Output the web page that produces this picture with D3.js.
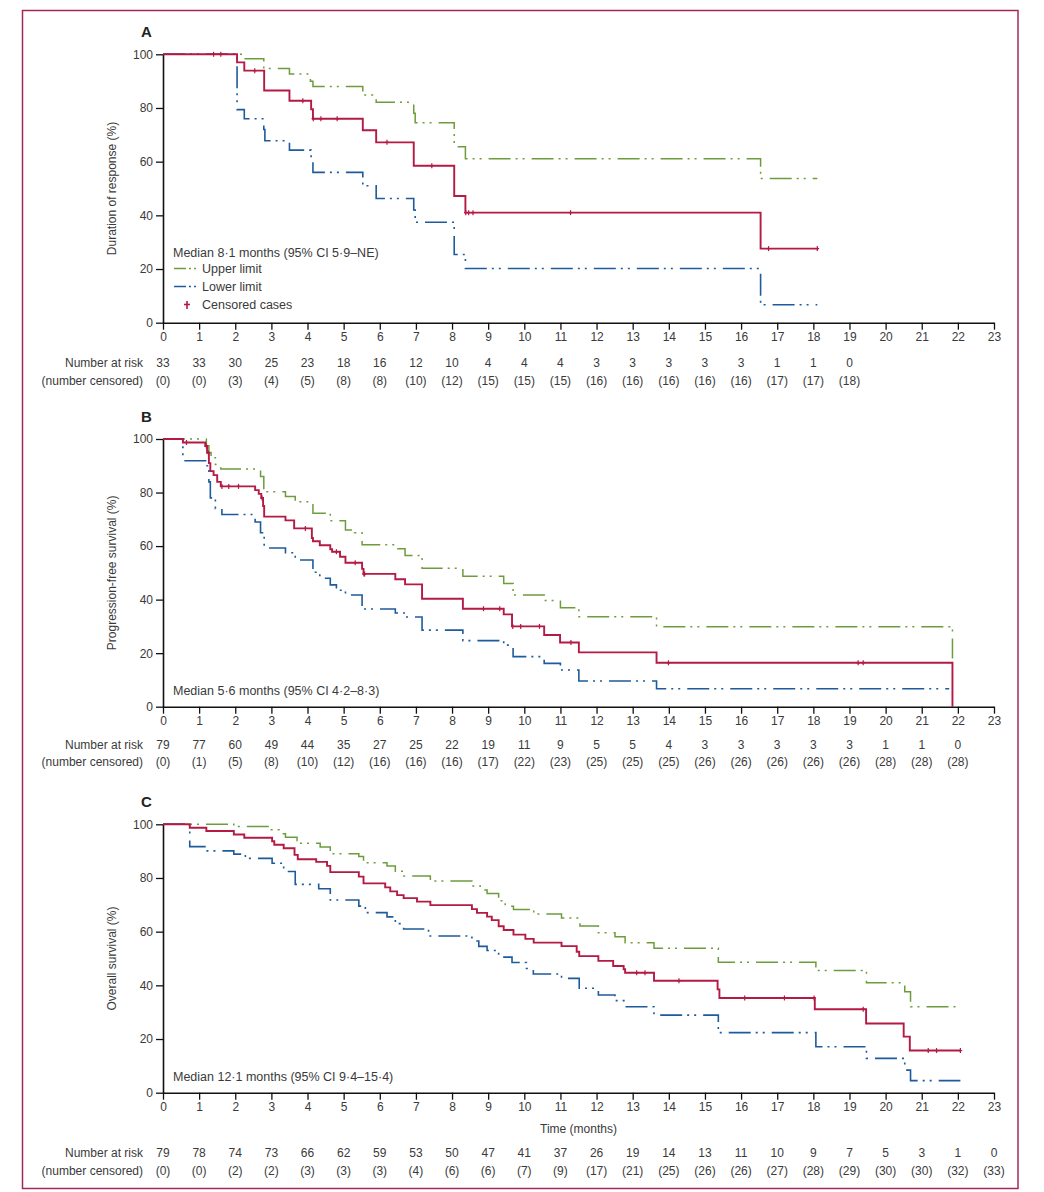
<!DOCTYPE html>
<html>
<head>
<meta charset="utf-8">
<script src="https://cdn.jsdelivr.net/npm/d3@7"></script>
<style>
  html, body { margin: 0; padding: 0; background: #fff; }
  svg { display: block; font-family: "Liberation Sans", Arial, sans-serif; }
</style>
</head>
<body>
<div id="chart"></div>
<script>
// x ticks shared by all three panels
const monthTicks = d3.range(0, 24);
const pctTicks = [0, 20, 40, 60, 80, 100];

// ---- panel A: duration of response ----
// each pair is [time of step (months), value after step (%)]
const aEstimate = [[0,100],[2.05,97],[2.25,93.9],[2.8,86.5],[3.5,82.7],[4.1,79.5],[4.15,76],[5.53,71.7],[5.9,67.2],[6.94,58.5],[8.06,47.2],[8.37,41],[16.54,27.6],[18.11,27.6]];
const aUpper = [[0,100],[2.25,98.3],[2.79,94.7],[3.5,92.7],[4.08,90],[4.15,88],[5.53,84.8],[5.9,82.1],[6.94,78],[6.98,74.5],[8.06,65.6],[8.37,61.1],[16.54,53.7],[18.11,53.7]];
const aLower = [[0,100],[2.05,79.4],[2.25,76],[2.79,72],[2.82,67.8],[3.5,64.3],[4.1,60],[4.15,56],[5.53,51],[5.9,46.3],[6.94,42],[6.98,37.4],[8.06,25.4],[8.37,20.2],[16.54,6.7],[18.11,6.7]];
const aCensored = [1.4, 1.6, 2.54, 3.87, 4.16, 4.37, 4.82, 6.2, 7.44, 8.38, 8.46, 8.58, 11.28, 16.76, 18.11];
const aAtRisk = [33,33,30,25,23,18,16,12,10,4,4,4,3,3,3,3,3,1,1,0];
const aNumCensored = [0,0,3,4,5,8,8,10,12,15,15,15,16,16,16,16,16,17,17,18];

// ---- panel B: progression-free survival ----
const bEstimate = [[0,100],[0.55,98.7],[1.17,97.4],[1.22,94.8],[1.27,91],[1.31,88],[1.4,86.5],[1.5,84],[1.6,82.3],[2.55,80.9],[2.65,79.5],[2.72,78],[2.77,75],[2.8,71],[3.39,69.6],[3.63,66.6],[4.12,63],[4.15,61.8],[4.34,60.3],[4.63,58.8],[4.68,57.9],[4.9,56],[5.05,53.8],[5.51,51.5],[5.55,49.6],[6.43,47.6],[6.7,45.7],[7.17,40.3],[8.3,36.6],[9.43,34.5],[9.66,30],[10.55,26.8],[10.99,24],[11.51,20.3],[13.66,16.4],[21.85,0]];
const bUpper = [[0,100],[1.2,97.5],[1.27,95],[1.33,93],[1.45,90.5],[1.6,88.8],[2.7,86],[2.79,80.3],[3.39,78.5],[3.66,76.6],[4.15,72.3],[4.63,69.5],[5.05,66],[5.3,65],[5.51,60.5],[6.43,59],[6.7,56.5],[7.17,51.7],[8.3,48.7],[9.43,46],[9.69,41.7],[10.55,39.7],[11.0,37],[11.51,33.6],[13.66,29.9],[21.85,18]];
const bLower = [[0,100],[0.55,91.9],[1.22,90],[1.27,84],[1.31,78],[1.45,74],[1.63,71.8],[2.55,69],[2.7,65],[2.8,59.3],[3.39,57.5],[3.66,54.8],[4.15,50.2],[4.34,48],[4.63,45.5],[4.8,43.5],[5.05,41.7],[5.51,36.5],[6.43,35],[6.7,33.5],[7.17,28.6],[8.3,24.7],[9.43,23],[9.69,18.7],[10.55,16.2],[11.0,13.7],[11.51,9.6],[13.66,6.7],[21.76,6.7]];
const bCensored = [0.65, 1.2, 1.26, 1.63, 1.82, 2.09, 2.74, 3.94, 4.8, 5.32, 5.56, 5.58, 8.87, 9.32, 9.68, 9.9, 10.42, 11.29, 13.99, 19.24, 19.38];
const bAtRisk = [79,77,60,49,44,35,27,25,22,19,11,9,5,5,4,3,3,3,3,3,1,1,0];
const bNumCensored = [0,1,5,8,10,12,16,16,16,17,22,23,25,25,25,26,26,26,26,26,28,28,28];

// ---- panel C: overall survival ----
const cEstimate = [[0,100],[0.74,98.7],[1.2,97.5],[1.96,96.2],[2.25,95],[3.02,93.7],[3.08,92.4],[3.34,91.1],[3.64,88.6],[3.73,87],[4.24,86],[4.54,84.5],[4.63,82.2],[5.42,80.5],[5.55,78],[6.15,76.5],[6.29,75],[6.48,73.6],[6.66,72.5],[7.03,71.2],[7.4,69.9],[8.55,68.4],[8.69,67],[8.97,65.6],[9.1,64.3],[9.29,62],[9.43,60.6],[9.7,58.9],[10.03,57.3],[10.26,55.9],[11.03,54.6],[11.45,52.5],[11.52,50.9],[12.05,49.1],[12.46,47.2],[12.75,46],[12.79,44.7],[13.59,41.7],[15.35,38.5],[15.4,35.3],[18.04,31.1],[19.46,25.8],[20.5,20.9],[20.67,15.7],[22.07,15.7]];
const cUpper = [[0,100],[1.96,99.2],[2.97,98],[3.25,96.5],[3.39,95.2],[3.71,92.9],[4.35,91.5],[4.63,89],[5.42,88],[5.55,85.7],[6.2,84.5],[6.43,82.5],[6.66,80.7],[7.4,78.9],[8.55,77],[8.78,75.5],[8.97,74.2],[9.29,71.5],[9.47,69.5],[9.7,68.3],[10.26,66.6],[11.03,65.1],[11.54,62.1],[12.05,59.6],[12.51,58.1],[12.79,55.9],[13.59,53.8],[15.37,48.6],[18.07,45.5],[19.47,41],[20.53,37.6],[20.69,32],[22.07,32]];
const cLower = [[0,100],[0.74,91.7],[1.22,90.1],[1.96,88.9],[2.28,87.3],[3.02,85.5],[3.34,82.4],[3.66,77.6],[4.31,76],[4.63,71.8],[5.42,69.5],[5.6,67.1],[6.2,65.5],[6.43,63],[6.66,61],[7.35,58.4],[8.55,56.5],[8.74,54.5],[8.97,53],[9.29,50.5],[9.66,48.5],[10.06,46.3],[10.25,44.2],[11.03,42.6],[11.52,38.9],[12.05,36.4],[12.51,34.3],[12.79,32],[13.59,28.9],[15.37,22.4],[18.07,17.1],[19.47,12.8],[20.53,8.4],[20.69,4.5],[22.07,4.5]];
const cCensored = [13.11, 13.34, 14.28, 16.1, 17.2, 18.02, 19.38, 21.18, 21.41, 22.07];
const cAtRisk = [79,78,74,73,66,62,59,53,50,47,41,37,26,19,14,13,11,10,9,7,5,3,1,0];
const cNumCensored = [0,0,2,2,3,3,3,4,6,6,7,9,17,21,25,26,26,27,28,29,30,30,32,33];

const RED = '#b31a44', GREEN = '#6e9c3c', BLUE = '#1d5b9c', INK = '#3a3a3a';
const DASH = '22 5 2 5 2 7';

const svg = d3.select('#chart').append('svg')
  .attr('width', 1044)
  .attr('height', 1192);

// thin frame round the whole figure
svg.append('rect')
  .attr('x', 22.5).attr('y', 10.5)
  .attr('width', 995.5).attr('height', 1178)
  .attr('fill', 'none')
  .attr('stroke', '#a3285a')
  .attr('stroke-width', 1.5);

const x = d3.scaleLinear().domain([0, 23]).range([163, 994]);

// value of a step curve at time t
function stepValue(steps, t) {
  let v = steps[0][1];
  steps.forEach((s) => { if (s[0] <= t) v = s[1]; });
  return v;
}

function drawPanel(opt) {
  const y = d3.scaleLinear().domain([0, 100]).range([opt.bottom, opt.top]);
  const g = svg.append('g');

  g.append('text')
    .attr('x', 141).attr('y', opt.top - 17)
    .attr('font-size', 15).attr('font-weight', 'bold').attr('fill', '#222')
    .text(opt.letter);

  // axes
  const xAxis = g.append('g')
    .attr('transform', 'translate(0,' + opt.bottom + ')')
    .call(d3.axisBottom(x).tickValues(monthTicks).tickSize(7).tickSizeOuter(0).tickPadding(3));
  const yAxis = g.append('g')
    .attr('transform', 'translate(163,0)')
    .call(d3.axisLeft(y).tickValues(pctTicks).tickSize(7).tickSizeOuter(0).tickPadding(3));
  [xAxis, yAxis].forEach((a) => {
    a.select('.domain').attr('stroke', '#111').attr('stroke-width', 1.6);
    a.selectAll('.tick line').attr('stroke', '#111').attr('stroke-width', 1.3);
    a.selectAll('text').attr('font-size', 12).attr('fill', INK).attr('font-family', null);
  });

  g.append('text')
    .attr('transform', 'translate(116,' + (opt.top + opt.bottom) / 2 + ') rotate(-90)')
    .attr('text-anchor', 'middle')
    .attr('font-size', 12).attr('fill', INK)
    .text(opt.yTitle);

  const line = d3.line()
    .x((d) => x(d[0]))
    .y((d) => y(d[1]))
    .curve(d3.curveStepAfter);

  g.append('path').datum(opt.upper)
    .attr('d', line).attr('fill', 'none')
    .attr('stroke', GREEN).attr('stroke-width', 1.5).attr('stroke-dasharray', DASH);
  g.append('path').datum(opt.lower)
    .attr('d', line).attr('fill', 'none')
    .attr('stroke', BLUE).attr('stroke-width', 1.6).attr('stroke-dasharray', DASH);
  g.append('path').datum(opt.estimate)
    .attr('d', line).attr('fill', 'none')
    .attr('stroke', RED).attr('stroke-width', 1.9);

  // censor marks on the estimate
  const marks = g.append('g').attr('stroke', RED).attr('stroke-width', 1.2);
  opt.censored.forEach((t) => {
    const cx = x(t), cy = y(stepValue(opt.estimate, t));
    marks.append('line').attr('x1', cx).attr('x2', cx).attr('y1', cy - 2.5).attr('y2', cy + 2.5);
    marks.append('line').attr('x1', cx - 1.8).attr('x2', cx + 1.8).attr('y1', cy).attr('y2', cy);
  });

  g.append('text')
    .attr('x', 173).attr('y', opt.medianY)
    .attr('font-size', 12.5).attr('fill', INK)
    .text(opt.median);

  // number at risk table
  const rows = [
    { label: 'Number at risk', y: opt.riskY, vals: opt.atRisk.map(String) },
    { label: '(number censored)', y: opt.riskY + opt.rowGap, vals: opt.numCensored.map((v) => '(' + v + ')') }
  ];
  rows.forEach((r) => {
    g.append('text')
      .attr('x', 143).attr('y', r.y)
      .attr('text-anchor', 'end').attr('font-size', 12).attr('fill', INK)
      .text(r.label);
    g.selectAll(null).data(r.vals).enter().append('text')
      .attr('x', (d, i) => x(i)).attr('y', r.y)
      .attr('text-anchor', 'middle').attr('font-size', 12).attr('fill', INK)
      .text((d) => d);
  });
  return g;
}

const gA = drawPanel({
  letter: 'A', top: 54.3, bottom: 322.7, yTitle: 'Duration of response (%)',
  estimate: aEstimate, upper: aUpper, lower: aLower, censored: aCensored,
  median: 'Median 8·1 months (95% CI 5·9–NE)', medianY: 256.5,
  atRisk: aAtRisk, numCensored: aNumCensored, riskY: 367, rowGap: 18
});

// legend for panel A
const legend = gA.append('g');
legend.append('line').attr('x1', 174).attr('x2', 197).attr('y1', 268.5).attr('y2', 268.5)
  .attr('stroke', GREEN).attr('stroke-width', 1.5).attr('stroke-dasharray', '12 3 2 3 2 3');
legend.append('line').attr('x1', 174).attr('x2', 197).attr('y1', 286.5).attr('y2', 286.5)
  .attr('stroke', BLUE).attr('stroke-width', 1.6).attr('stroke-dasharray', '12 3 2 3 2 3');
legend.append('line').attr('x1', 187).attr('x2', 187).attr('y1', 301).attr('y2', 309)
  .attr('stroke', RED).attr('stroke-width', 1.6);
legend.append('line').attr('x1', 184).attr('x2', 190).attr('y1', 304.5).attr('y2', 304.5)
  .attr('stroke', RED).attr('stroke-width', 1.6);
[['Upper limit', 273], ['Lower limit', 291], ['Censored cases', 309]].forEach((d) => {
  legend.append('text').attr('x', 202).attr('y', d[1])
    .attr('font-size', 12.5).attr('fill', INK).text(d[0]);
});

drawPanel({
  letter: 'B', top: 439, bottom: 706.7, yTitle: 'Progression-free survival (%)',
  estimate: bEstimate, upper: bUpper, lower: bLower, censored: bCensored,
  median: 'Median 5·6 months (95% CI 4·2–8·3)', medianY: 694.5,
  atRisk: bAtRisk, numCensored: bNumCensored, riskY: 749, rowGap: 16.5
});

drawPanel({
  letter: 'C', top: 824.3, bottom: 1092.7, yTitle: 'Overall survival (%)',
  estimate: cEstimate, upper: cUpper, lower: cLower, censored: cCensored,
  median: 'Median 12·1 months (95% CI 9·4–15·4)', medianY: 1080.5,
  atRisk: cAtRisk, numCensored: cNumCensored, riskY: 1157, rowGap: 18
});

svg.append('text')
  .attr('x', x(11.5)).attr('y', 1133)
  .attr('text-anchor', 'middle').attr('font-size', 12).attr('fill', INK)
  .text('Time (months)');
</script>
</body>
</html>
